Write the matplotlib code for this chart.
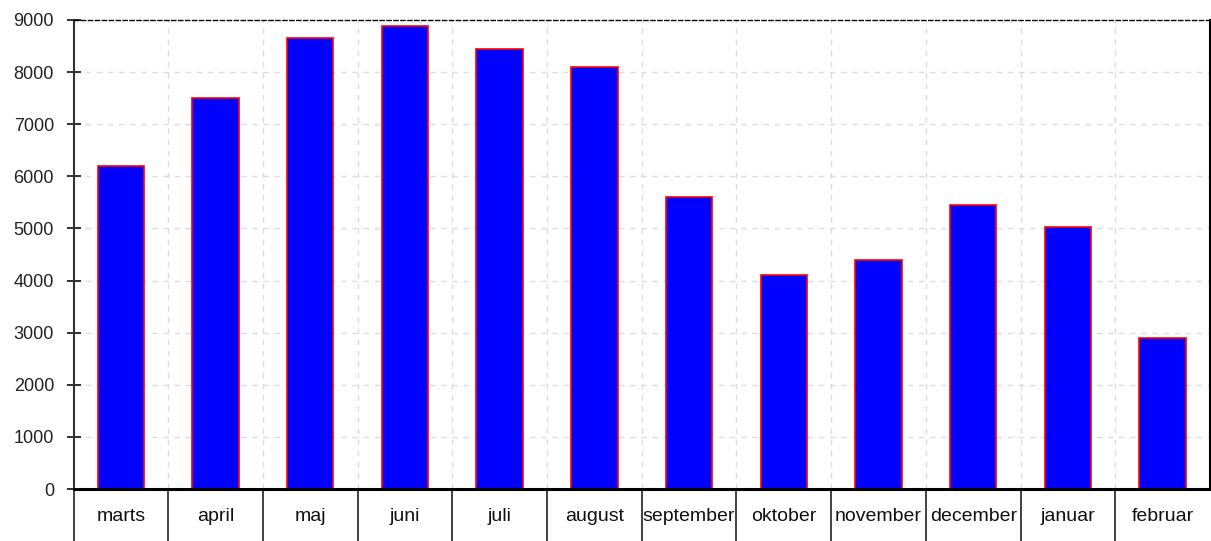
import matplotlib
matplotlib.use("Agg")
import matplotlib.pyplot as plt

months = ["marts", "april", "maj", "juni", "juli", "august", "september",
          "oktober", "november", "december", "januar", "februar"]
values = [6190, 7500, 8650, 8880, 8440, 8100, 5600, 4100, 4400, 5450, 5030, 2900]
yticks = [0, 1000, 2000, 3000, 4000, 5000, 6000, 7000, 8000, 9000]

plt.rcParams['font.family'] = ['Liberation Sans', 'DejaVu Sans']

W, H = 1211, 541
fig = plt.figure(figsize=(W / 100, H / 100), dpi=100)
left, right, top, bottom = 73.5, 1210, 20, 489
ax = fig.add_axes([left / W, (H - bottom) / H, (right - left) / W, (bottom - top) / H])

n = len(months)
x = list(range(n))
ax.set_xlim(-0.5, n - 0.5)
ax.set_ylim(0, 9000)

# grid
for yv in yticks[1:-1]:
    ax.axhline(yv, color='#dddddd', lw=1.0, ls=(0, (4, 4)), zorder=0)
for k in range(1, n):
    ax.axvline(k - 0.5, color='#dddddd', lw=1.0, ls=(0, (4, 4)), zorder=0)

ax.bar(x, values, width=0.49, color='#0000ff', edgecolor='#ff0000', linewidth=1.2, zorder=2)

# spines
ax.spines['left'].set_color('#333333')
ax.spines['left'].set_linewidth(1.5)
ax.spines['bottom'].set_color('#000000')
ax.spines['bottom'].set_linewidth(2.2)
ax.spines['bottom'].set_zorder(3)
ax.spines['right'].set_color('#000000')
ax.spines['right'].set_linewidth(1.5)
ax.spines['top'].set_color('#000000')
ax.spines['top'].set_linewidth(1.0)
ax.spines['top'].set_linestyle((0, (3, 2)))

ax.set_yticks(yticks)
ax.set_yticklabels([str(v) for v in yticks])
ax.tick_params(axis='y', direction='inout', length=10, width=1.3, color='#222222',
               labelsize=13, labelcolor='#222222', pad=9)

ax.set_xticks(x)
ax.set_xticklabels(months)
ax.tick_params(axis='x', length=0, labelsize=14, labelcolor='#111111', pad=14)

# separators below the axis
trans = ax.get_xaxis_transform()
depth = (H - bottom) / (bottom - top)
for k in range(0, n):
    ax.plot([k - 0.5, k - 0.5], [0, -depth], transform=trans, color='#333333',
            lw=1.3, clip_on=False, zorder=1)

fig.savefig("out.png", dpi=100)
